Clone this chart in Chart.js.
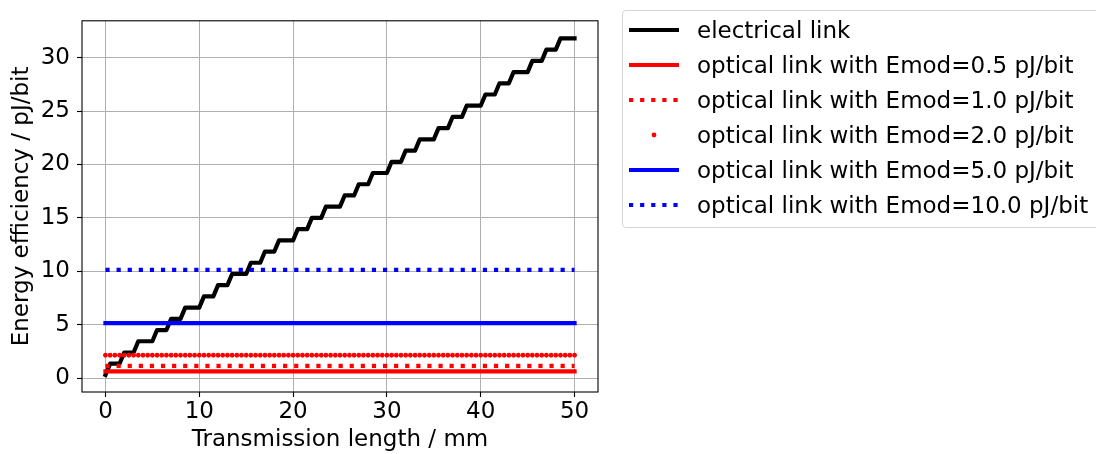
<!DOCTYPE html>
<html>
<head>
<meta charset="utf-8">
<script src="https://cdn.jsdelivr.net/npm/chart.js@4.4.0/dist/chart.umd.min.js"></script>
<style>
  html, body { margin: 0; padding: 0; background: #fff; }
  #wrap { position: relative; width: 1096px; height: 454px; overflow: hidden; }
  #legend {
    position: absolute; left: 622px; top: 10px; width: 520px; height: 216px;
    border: 1px solid #d4d4d4; border-radius: 4px; background: #fff;
    font-family: 'DejaVu Sans'; font-size: 23px; color: #000;
  }
  .row { position: absolute; left: 0; height: 36px; display: flex; align-items: center; white-space: nowrap; }
  .row svg { margin-left: 6px; margin-right: 18px; }
</style>
</head>
<body>
<div id="wrap">
  <canvas id="energyChart" width="1096" height="454"></canvas>
  <div id="legend"></div>
</div>
<script>
// x sample grid of the optical curves (mm)
const lengthMm = [0, 0.5, 1, 1.5, 2, 2.5, 3, 3.5, 4, 4.5, 5, 5.5, 6, 6.5, 7, 7.5, 8, 8.5, 9, 9.5,
  10, 10.5, 11, 11.5, 12, 12.5, 13, 13.5, 14, 14.5, 15, 15.5, 16, 16.5, 17, 17.5, 18, 18.5, 19, 19.5,
  20, 20.5, 21, 21.5, 22, 22.5, 23, 23.5, 24, 24.5, 25, 25.5, 26, 26.5, 27, 27.5, 28, 28.5, 29, 29.5,
  30, 30.5, 31, 31.5, 32, 32.5, 33, 33.5, 34, 34.5, 35, 35.5, 36, 36.5, 37, 37.5, 38, 38.5, 39, 39.5,
  40, 40.5, 41, 41.5, 42, 42.5, 43, 43.5, 44, 44.5, 45, 45.5, 46, 46.5, 47, 47.5, 48, 48.5, 49, 49.5, 50];

// electrical link: corners of the staircase
const elecX = [0, 0.5, 1.5, 2, 3, 3.5, 5, 5.5, 6.5, 7, 8, 8.5, 10, 10.5, 11.5, 12, 13, 13.5, 15,
  15.5, 16.5, 17, 18, 18.5, 20, 20.5, 21.5, 22, 23, 23.5, 25, 25.5, 26.5, 27, 28, 28.5, 30,
  30.5, 31.5, 32, 33, 33.5, 35, 35.5, 36.5, 37, 38, 38.5, 40, 40.5, 41.5, 42, 43, 43.5, 45,
  45.5, 46.5, 47, 48, 48.5, 50];
const elecY = [0.3, 1.35, 1.35, 2.4, 2.4, 3.45, 3.45, 4.5, 4.5, 5.55, 5.55, 6.6, 6.6, 7.65, 7.65,
  8.7, 8.7, 9.75, 9.75, 10.8, 10.8, 11.85, 11.85, 12.9, 12.9, 13.95, 13.95, 15.0, 15.0,
  16.05, 16.05, 17.1, 17.1, 18.15, 18.15, 19.2, 19.2, 20.25, 20.25, 21.3, 21.3, 22.35, 22.35,
  23.4, 23.4, 24.45, 24.45, 25.5, 25.5, 26.55, 26.55, 27.6, 27.6, 28.65, 28.65, 29.7, 29.7,
  30.75, 30.75, 31.8, 31.8];

// optical links: flat energy per Emod
const emodLabels = ['0.5', '1.0', '2.0', '5.0', '10.0'];
const opticalEnergy = [0.64, 1.14, 2.14, 5.14, 10.14];

const xTicks = [0, 10, 20, 30, 40, 50];
const yTicks = [0, 5, 10, 15, 20, 25, 30];

const FONT = 'DejaVu Sans';
const LW = 4.2;
const DOT = [4.2, 6.9];

function flat(v) {
  return lengthMm.map((x) => ({ x: x, y: v }));
}

const styles = [
  { color: '#ff0000', dash: [], line: true },
  { color: '#ff0000', dash: DOT, line: true },
  { color: '#ff0000', dash: [], line: false },
  { color: '#0000ff', dash: [], line: true },
  { color: '#0000ff', dash: DOT, line: true },
];

const datasets = [{
  label: 'electrical link',
  data: elecX.map((x, i) => ({ x: x, y: elecY[i] })),
  borderColor: '#000000',
  borderWidth: LW,
  borderJoinStyle: 'round',
  borderCapStyle: 'square',
  pointRadius: 0,
  order: 10,
  _dash: [], _line: true
}];

emodLabels.forEach((e, i) => {
  const s = styles[i];
  datasets.push({
    label: 'optical link with Emod=' + e + ' pJ/bit',
    data: flat(opticalEnergy[i]),
    borderColor: s.color,
    backgroundColor: s.color,
    borderWidth: LW,
    borderDash: s.dash,
    borderCapStyle: s.dash.length ? 'butt' : 'square',
    showLine: s.line,
    pointRadius: s.line ? 0 : 2.4,
    pointBorderWidth: 0,
    order: 9 - i,
    _dash: s.dash, _line: s.line
  });
});

// frame round the plot area
const framePlugin = {
  id: 'frame',
  afterDraw(chart) {
    const a = chart.chartArea, ctx = chart.ctx;
    ctx.save();
    ctx.strokeStyle = '#000';
    ctx.lineWidth = 1.1;
    ctx.strokeRect(a.left, a.top, a.right - a.left, a.bottom - a.top);
    ctx.restore();
  }
};

new Chart(document.getElementById('energyChart'), {
  type: 'line',
  data: { datasets: datasets },
  options: {
    responsive: false,
    animation: false,
    layout: { padding: { top: 9, right: 498, left: 0, bottom: 0 } },
    plugins: { legend: { display: false }, tooltip: { enabled: false } },
    scales: {
      x: {
        type: 'linear', min: -2.5, max: 52.5,
        afterFit: (s) => { s.height = 62; },
        afterBuildTicks: (s) => { s.ticks = xTicks.map((v) => ({ value: v })); },
        grid: { color: '#b0b0b0', lineWidth: 1, tickColor: '#000', tickLength: 5, tickWidth: 1.1 },
        border: { display: false },
        ticks: { color: '#000', font: { family: FONT, size: 23 }, padding: 1, maxRotation: 0 },
        title: { display: true, text: 'Transmission length / mm', color: '#000',
          font: { family: FONT, size: 23 }, padding: { top: 0, bottom: 0 } }
      },
      y: {
        type: 'linear', min: -1.3, max: 33.45,
        afterFit: (s) => { s.width = 82; },
        afterBuildTicks: (s) => { s.ticks = yTicks.map((v) => ({ value: v })); },
        grid: { color: '#b0b0b0', lineWidth: 1, tickColor: '#000', tickLength: 5, tickWidth: 1.1 },
        border: { display: false },
        ticks: { color: '#000', font: { family: FONT, size: 23 }, padding: 7 },
        title: { display: true, text: 'Energy efficiency / pJ/bit', color: '#000',
          font: { family: FONT, size: 23 }, padding: { top: 8, bottom: 0 } }
      }
    }
  },
  plugins: [framePlugin]
});

// legend outside the axes, as in the original figure
const legendRowsY = [30, 65, 100, 135, 170, 205];
const legend = document.getElementById('legend');
datasets.forEach((d, i) => {
  const row = document.createElement('div');
  row.className = 'row';
  row.style.top = (legendRowsY[i] - 11 - 18) + 'px';
  let mark;
  if (d._line) {
    mark = `<line x1="0" y1="6" x2="50" y2="6" stroke="${d.borderColor}" stroke-width="${LW}"
      stroke-dasharray="${d._dash.join(' ')}" />`;
  } else {
    mark = `<circle cx="25" cy="6" r="2.4" fill="${d.borderColor}" />`;
  }
  row.innerHTML = `<svg width="50" height="12">${mark}</svg><span>${d.label}</span>`;
  legend.appendChild(row);
});
</script>
</body>
</html>
